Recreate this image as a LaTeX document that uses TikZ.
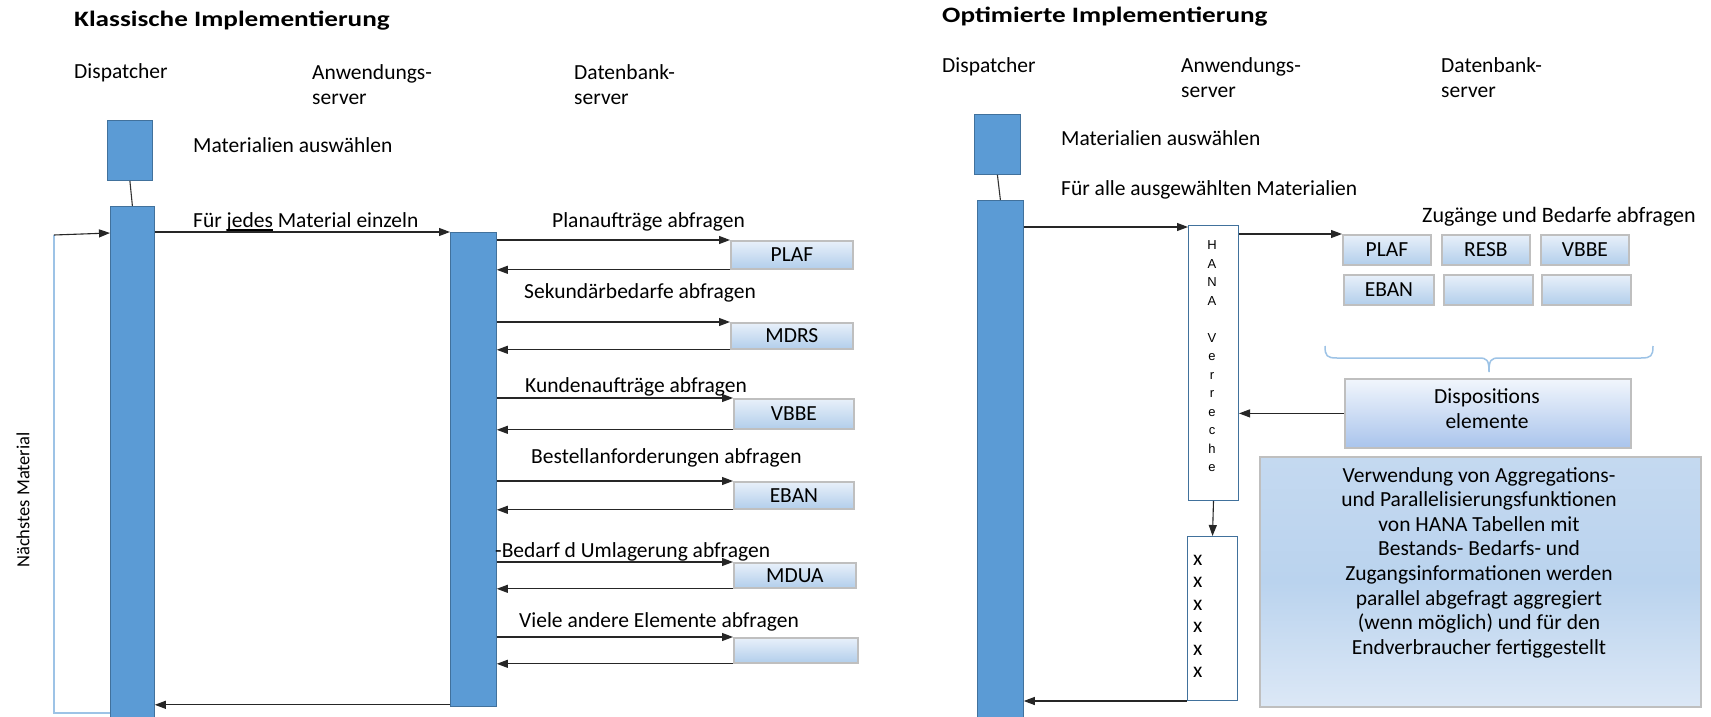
\documentclass[tikz,border=0pt]{standalone}
\usepackage{fontspec}
\usepackage{graphicx}
\setmainfont{Carlito}
\newfontfamily\hanafont{Liberation Sans}
\usetikzlibrary{arrows.meta}
\definecolor{barblue}{HTML}{5B9BD5}
\definecolor{barline}{HTML}{41719C}
\definecolor{loopblue}{HTML}{9DC3E6}
\definecolor{boxgray}{HTML}{BFBFBF}
\definecolor{boxtop}{HTML}{E8F0FA}
\definecolor{boxbot}{HTML}{B2CEEB}
\definecolor{bigtop}{HTML}{C4D9F0}
\definecolor{bigmid}{HTML}{BAD3EE}
\definecolor{bigbot}{HTML}{DCE8F6}
\newcommand\myul[1]{\leavevmode\setbox0\hbox{#1}\rlap{\rule[-3.6pt]{\wd0}{1.3pt}}\box0\relax}
\newcommand\widetitle[1]{\scalebox{1.235}[1]{#1}}
\begin{document}
\begin{tikzpicture}[x=1pt,y=-1pt,
  font=\fontsize{21.5pt}{25pt}\selectfont,
  txt/.style={inner sep=0pt, anchor=base west},
  ttl/.style={inner sep=0pt, anchor=base west, font=\fontsize{22pt}{26pt}\selectfont\bfseries},
  bar/.style={draw=barline, fill=barblue, line width=0.8pt, inner sep=0pt, anchor=north west},
  dbbox/.style={draw=boxgray, line width=1.8pt, top color=boxtop, bottom color=boxbot, inner sep=0pt, anchor=north west},
  arr/.style={-{Triangle[length=11pt,width=8pt]}, line width=1.1pt, draw=black!85},
  link/.style={line width=1.1pt, draw=black!80}]
\useasboundingbox (0,0) rectangle (1711,717);
\fill[white] (0,0) rectangle (1711,717);

% ---------------- left panel ----------------
\node[ttl] (ltitle) at (74,27) {\widetitle{Klassische Implementierung}};
\node[txt] (lh1) at (74,78) {Dispatcher};
\node[txt] (lh2a) at (312,79) {Anwendungs-};
\node[txt] (lh2b) at (312,104) {server};
\node[txt] (lh3a) at (574,79) {Datenbank-};
\node[txt] (lh3b) at (574,104) {server};

\node[bar, minimum width=45pt, minimum height=60pt] (lsel) at (107,120) {};
\node[bar, minimum width=44pt, minimum height=520pt] (ldisp) at (110,206) {};
\draw[link] (lsel.south) -- (ldisp.north);
\node[txt] (lmat) at (193,152) {Materialien auswählen};
\node[txt] (lfor) at (193,227) {Für \myul{jedes} Material einzeln};

\node[bar, minimum width=46pt, minimum height=474pt] (lapp) at (450,232) {};
\draw[arr] (ldisp.east |- lapp.north west) -- (lapp.north west);
\draw[arr] (lapp.south west) ++(0,-2) coordinate (lret) -- (ldisp.east |- lret);

% loop
\coordinate (lpTop) at (54,235);
\coordinate (lpBot) at (54,713);
\draw[loopblue, line width=1.3pt] (ldisp.west |- lpBot) -- (lpBot) -- (lpTop);
\draw[arr] (lpTop) -- (ldisp.west |- 0,233);
\node[inner sep=0pt, rotate=90, font=\fontsize{18.5pt}{22pt}\selectfont] (lnext) at (23,500) {Nächstes Material};

% db boxes left
\node[dbbox, minimum width=122pt, minimum height=28pt] (lplaf) at (730,240) {PLAF};
\node[dbbox, minimum width=122pt, minimum height=26pt] (lmdrs) at (730,322) {MDRS};
\node[dbbox, minimum width=120pt, minimum height=30pt] (lvbbe) at (733,398) {VBBE};
\node[dbbox, minimum width=120pt, minimum height=27pt] (leban) at (733,481) {EBAN};
\node[dbbox, minimum width=122pt, minimum height=25pt] (lmdua) at (733,562) {MDUA};
\node[dbbox, minimum width=124pt, minimum height=25pt] (lempty) at (733,637) {};

\foreach \b in {lplaf,lmdrs,lvbbe,leban,lmdua,lempty}{
  \draw[arr] (lapp.east |- \b.north west) -- (\b.north west);
  \draw[arr] (\b.south west) -- (lapp.east |- \b.south west);
}
\node[txt] (lq1) at (552,227) {Planaufträge abfragen};
\node[txt] (lq2) at (524,298) {Sekundärbedarfe abfragen};
\node[txt] (lq3) at (525,392) {Kundenaufträge abfragen};
\node[txt] (lq4) at (531,463) {Bestellanforderungen abfragen};
\node[txt] (lq5) at (495,557) {-Bedarf d Umlagerung abfragen};
\node[txt] (lq6) at (519,627) {Viele andere Elemente abfragen};

% ---------------- right panel ----------------
\node[ttl] (rtitle) at (942,23) {\widetitle{Optimierte Implementierung}};
\node[txt] (rh1) at (942,73) {Dispatcher};
\node[txt] (rh2a) at (1181,73) {Anwendungs-};
\node[txt] (rh2b) at (1181,98) {server};
\node[txt] (rh3a) at (1441,73) {Datenbank-};
\node[txt] (rh3b) at (1441,98) {server};

\node[bar, minimum width=46pt, minimum height=60pt] (rsel) at (974,114) {};
\node[bar, minimum width=46pt, minimum height=520pt] (rdisp) at (977,200) {};
\draw[link] (rsel.south) -- (rdisp.north);
\node[txt] (rmat) at (1061,145) {Materialien auswählen};
\node[txt] (rfor) at (1061,195) {Für alle ausgewählten Materialien};

\node[draw=barline, line width=1pt, fill=white, inner sep=0pt, anchor=north west,
      minimum width=50pt, minimum height=275pt] (hana) at (1188,225) {};
\node[inner sep=0pt, anchor=north, align=center, font=\hanafont\fontsize{13pt}{18.5pt}\selectfont] (hanatxt) at (1212,240.5)
  {H\\A\\N\\A\\[18.5pt]V\\e\\r\\r\\e\\c\\h\\e};
\draw[arr] (rdisp.east |- 0,227) -- (hana.west |- 0,227);

\node[txt, font=\fontsize{22pt}{26pt}\selectfont] (rq) at (1422,222) {Zugänge und Bedarfe abfragen};
\node[dbbox, minimum width=88pt, minimum height=30pt] (rplaf) at (1342,234) {PLAF};
\node[dbbox, minimum width=88pt, minimum height=30pt] (rresb) at (1441,234) {RESB};
\node[dbbox, minimum width=88pt, minimum height=30pt] (rvbbe) at (1540,234) {VBBE};
\node[dbbox, minimum width=90pt, minimum height=30pt] (reban) at (1343,274) {EBAN};
\node[dbbox, minimum width=89pt, minimum height=30pt] (re1) at (1443,274) {};
\node[dbbox, minimum width=89pt, minimum height=30pt] (re2) at (1541,274) {};
\draw[arr] (hana.east |- rplaf.north west) -- (rplaf.north west);

% brace
\draw[loopblue, line width=1.5pt] (1325,346) .. controls (1325,356) and (1327,358) .. (1337,358)
  -- (1479,358) .. controls (1487,358) and (1489,360) .. (1489,372)
  .. controls (1489,360) and (1491,358) .. (1499,358) -- (1641,358)
  .. controls (1651,358) and (1653,356) .. (1653,346);

\node[dbbox, minimum width=286pt, minimum height=69pt, top color=boxtop!60!white, bottom color=boxbot!95!blue] (disp) at (1344,378) {};
\node[inner sep=0pt, anchor=north, align=center] (disptxt) at (1487,388.5) {Dispositions\\elemente};
\draw[arr] (disp.west) -- (hana.east |- disp.west);

\node[draw=boxgray, line width=1.8pt, top color=bigtop, bottom color=bigbot, middle color=bigmid,
      inner sep=0pt, anchor=north west, minimum width=441pt, minimum height=250pt] (big) at (1259,456) {};
\node[inner sep=0pt, anchor=north, align=center, font=\fontsize{21.5pt}{24.6pt}\selectfont] (bigtxt) at (1479,467)
  {Verwendung von Aggregations-\\und Parallelisierungsfunktionen\\von HANA Tabellen mit\\Bestands- Bedarfs- und\\Zugangsinformationen werden\\parallel abgefragt aggregiert\\(wenn möglich) und für den\\Endverbraucher fertiggestellt};

\node[draw=barline, line width=1pt, fill=white, inner sep=0pt, anchor=north west,
      minimum width=50pt, minimum height=164pt] (xbox) at (1187,536) {};
\node[inner sep=0pt, anchor=north west, align=left, font=\fontsize{21.5pt}{22.5pt}\selectfont] (xtxt) at (1193,555)
  {x\\x\\x\\x\\x\\x};
\draw[arr] (hana.south) -- (xbox.north);
\draw[arr] (xbox.south west) -- (rdisp.east |- xbox.south west);
\end{tikzpicture}
\end{document}
